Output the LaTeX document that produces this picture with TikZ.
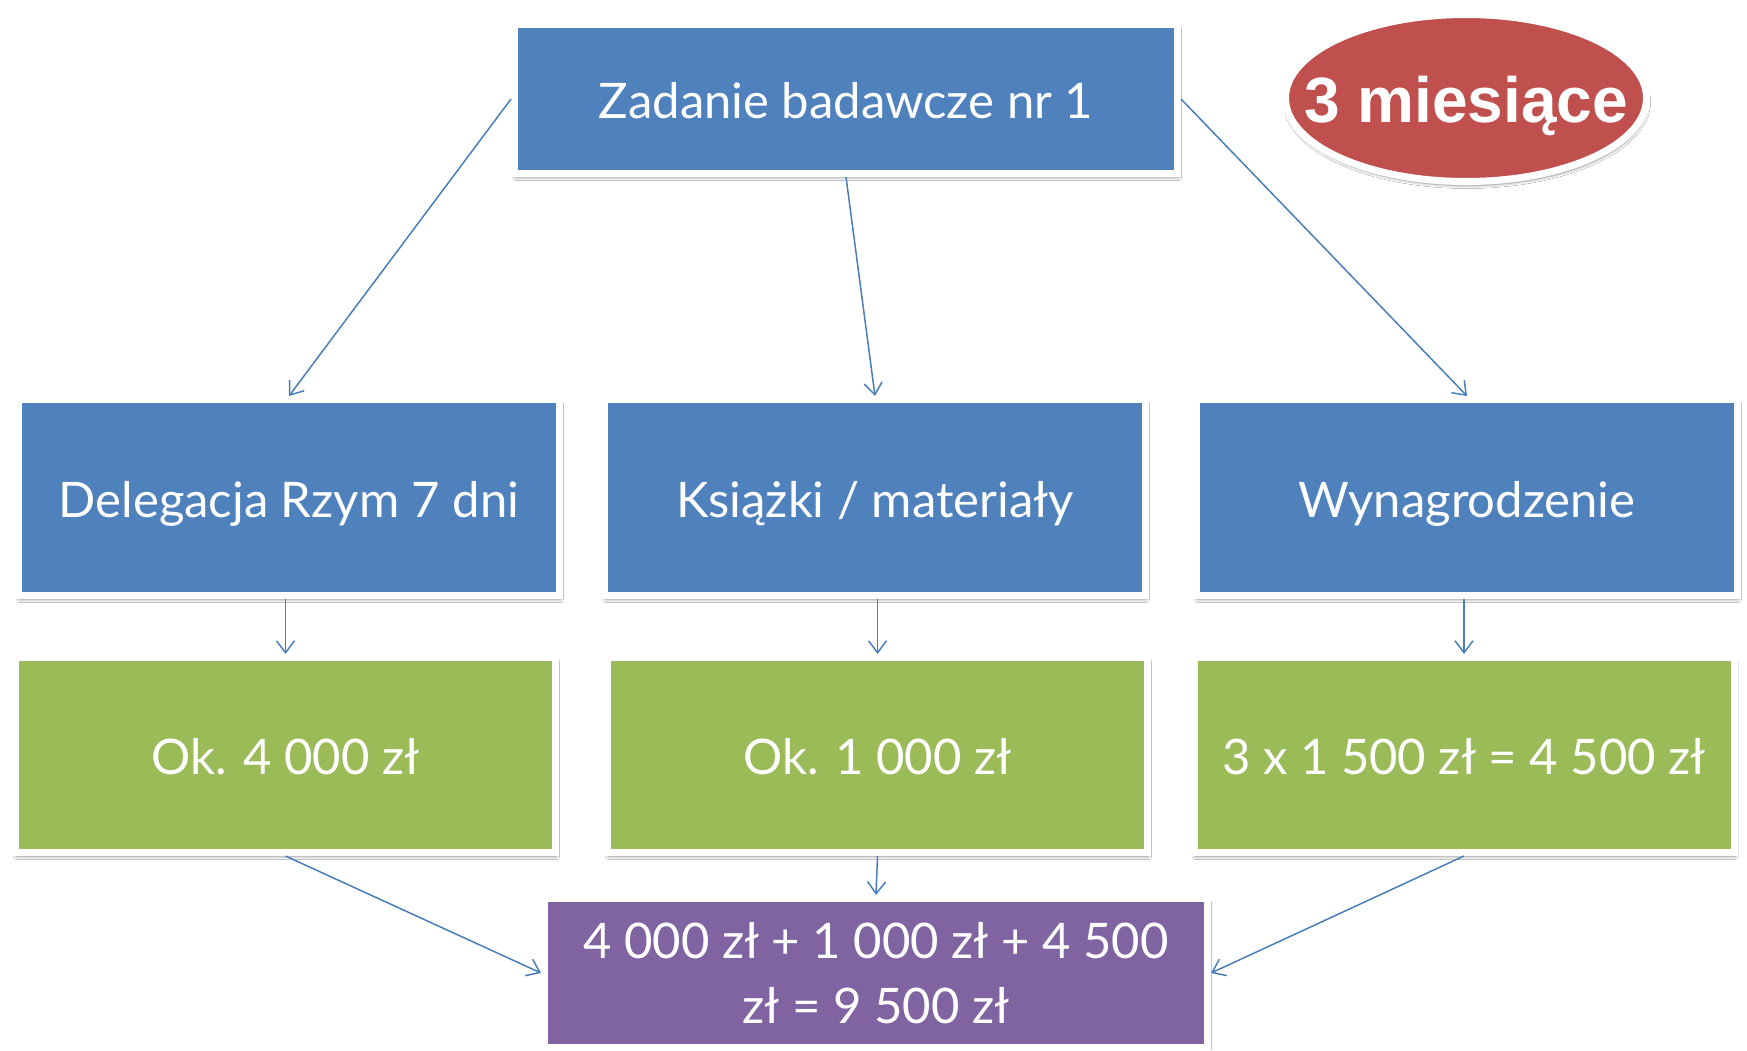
\documentclass[tikz,border=0pt]{standalone}
\usepackage{fontspec}
\setmainfont{Lato}
\newfontfamily\arialf{Liberation Sans}
\usetikzlibrary{shapes.geometric,shadows.blur,arrows.meta}
\definecolor{boxblue}{HTML}{4F81BD}
\definecolor{boxgreen}{HTML}{9BBB59}
\definecolor{boxpurple}{HTML}{8064A2}
\definecolor{ovalred}{HTML}{C0504D}
\definecolor{linkblue}{HTML}{4A7EBB}
\begin{document}
\begin{tikzpicture}[x=1pt,y=-1pt,
  softshadow/.style={blur shadow={shadow xshift=1pt, shadow yshift=-4pt, shadow blur steps=6,
    shadow blur radius=3pt, shadow opacity=45}},
  box/.style={draw=white, line width=7pt, text=white, align=center, inner sep=0pt,
    font=\fontsize{49}{65}\selectfont, softshadow},
  oneline/.style={text height=39pt, text depth=0pt},
  bluebox/.style={box, oneline, fill=boxblue},
  greenbox/.style={box, oneline, fill=boxgreen},
  purplebox/.style={box, fill=boxpurple},
  link/.style={draw=linkblue, line width=1.5pt, -{Straight Barb[length=12pt,width=18pt]}}]
\useasboundingbox (0,0) rectangle (1747,1050);
\fill[white] (0,0) rectangle (1747,1050);
% top
\node[bluebox, minimum width=663pt, minimum height=149pt] (top) at (846,99) {Zadanie badawcze nr 1};
\node[ellipse, draw=white, fill=ovalred, line width=7pt, minimum width=361pt, minimum height=167pt,
  inner sep=0pt, softshadow,
  label={[text=white, font=\arialf\bfseries\fontsize{64}{70}\selectfont, text height=47pt, text depth=0pt, inner sep=0pt, yshift=-1pt]center:3 miesiące}] (time) at (1466,98) {};
% row 2
\node[bluebox, minimum width=541pt, minimum height=196pt] (d1) at (289,497.5) {Delegacja Rzym 7 dni};
\node[bluebox, minimum width=541pt, minimum height=196pt] (d2) at (875,497.5) {Książki / materiały};
\node[bluebox, minimum width=541pt, minimum height=196pt] (d3) at (1467,497.5) {Wynagrodzenie};
% row 3
\node[greenbox, minimum width=540pt, minimum height=195pt] (k1) at (285.5,755) {Ok. 4 000 zł};
\node[greenbox, minimum width=540pt, minimum height=195pt] (k2) at (877.5,755) {Ok. 1 000 zł};
\node[greenbox, minimum width=540pt, minimum height=195pt] (k3) at (1464,755) {3 x 1 500 zł = 4 500 zł};
% sum
\node[purplebox, minimum width=663pt, minimum height=149pt] (sum) at (876,973) {4 000 zł + 1 000 zł + 4 500\\zł = 9 500 zł};
% connectors
\draw[link] (top.west) -- (d1.north);
\draw[link] (top.south) -- (d2.north);
\draw[link] (top.east) -- (d3.north);
\draw[link] (k1.north |- d1.south) -- (k1.north);
\draw[link] (k2.north |- d2.south) -- (k2.north);
\draw[link] (k3.north |- d3.south) -- (k3.north);
\draw[link] (k1.south) -- (sum.west);
\draw[link] (k2.south) -- (sum.north);
\draw[link] (k3.south) -- (sum.east);
\end{tikzpicture}
\end{document}
